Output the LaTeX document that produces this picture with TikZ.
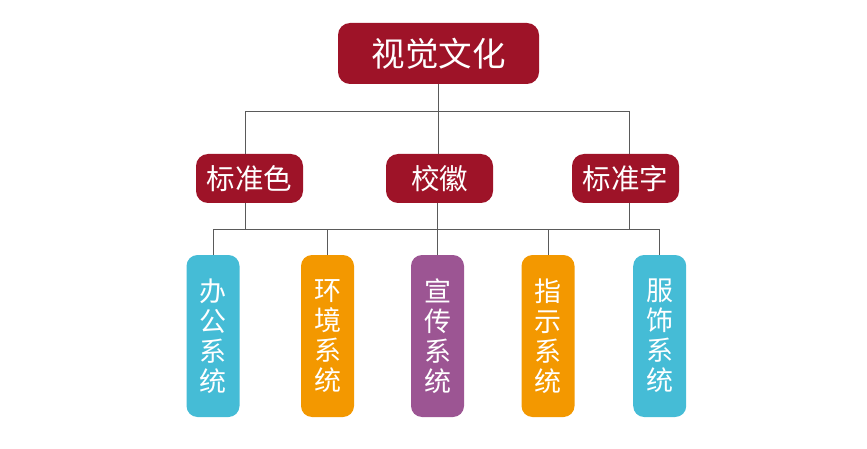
\documentclass[tikz,border=0pt]{standalone}
\usepackage{fontspec}
\newfontfamily\cjk{Noto Sans CJK SC}
\definecolor{dred}{HTML}{9E1328}
\definecolor{cyanbox}{HTML}{45BCD6}
\definecolor{orangebox}{HTML}{F39800}
\definecolor{purplebox}{HTML}{9C5593}
\definecolor{linegray}{HTML}{5A5A5A}
\begin{document}
\begin{tikzpicture}[x=1pt,y=-1pt,
  topbox/.style={fill=dred, rounded corners=12pt, minimum width=201pt, minimum height=61pt, inner sep=0pt, text=white, font=\cjk\fontsize{33.5}{36}\selectfont},
  midbox/.style={fill=dred, rounded corners=12pt, minimum width=107pt, minimum height=49pt, inner sep=0pt, text=white, font=\cjk\fontsize{28.5}{32}\selectfont},
  sysbox/.style={rounded corners=11pt, minimum width=53pt, minimum height=162pt, inner sep=0pt, text=white, align=center, font=\cjk\fontsize{27}{30}\selectfont},
  conn/.style={draw=linegray, line width=1pt}]
\useasboundingbox (0,0) rectangle (867,449);
\node[topbox] (top) at (438.5,53.5) {视觉文化};
\node[midbox] (m1) at (249.5,178.5) {标准色};
\node[midbox] (m2) at (439.5,178.5) {校徽};
\node[midbox] (m3) at (625.5,178.5) {标准字};
\node[sysbox, fill=cyanbox] (s1) at (213,336) {办\\公\\系\\统};
\node[sysbox, fill=orangebox] (s2) at (327.5,336) {环\\境\\系\\统};
\node[sysbox, fill=purplebox] (s3) at (437.5,336) {宣\\传\\系\\统};
\node[sysbox, fill=orangebox] (s4) at (548,336) {指\\示\\系\\统};
\node[sysbox, fill=cyanbox] (s5) at (659.7,336) {服\\饰\\系\\统};
\coordinate (b1) at (245.7,111.7);
\coordinate (b3) at (629.7,111.7);
\coordinate (l1) at (213,229);
\coordinate (l5) at (659.7,229);
\draw[conn] (top.south) -- (top.south |- m2.north);
\draw[conn] (b1 |- m1.north) -- (b1) -- (b3) -- (b3 |- m3.north);
\draw[conn] (b1 |- m1.south) -- (b1 |- l1);
\draw[conn] (b3 |- m3.south) -- (b3 |- l1);
\draw[conn] (s1.north) -- (l1) -- (l5) -- (s5.north);
\draw[conn] (s2.north) -- (s2.north |- l1);
\draw[conn] (s4.north) -- (s4.north |- l1);
\draw[conn] (s3.north |- m2.south) -- (s3.north);
\end{tikzpicture}
\end{document}
